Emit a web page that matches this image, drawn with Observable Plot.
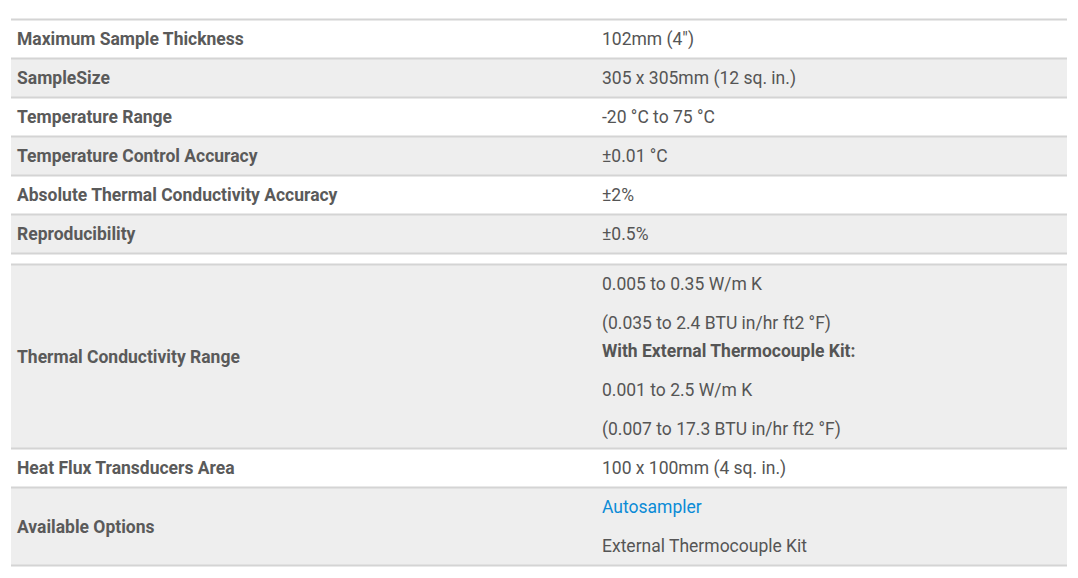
<!DOCTYPE html>
<html>
<head>
<meta charset="utf-8">
<script src="https://cdn.jsdelivr.net/npm/d3@7"></script>
<script src="https://cdn.jsdelivr.net/npm/@observablehq/plot@0.6"></script>
<style>
  body { margin: 0; background: #fff; }
  #chart svg { display: block; }
</style>
</head>
<body>
<div id="chart"></div>
<script>
// spec table: one label per row, value cell is a list of paragraphs (each a list of lines)
const labels = [
  "Maximum Sample Thickness",
  "SampleSize",
  "Temperature Range",
  "Temperature Control Accuracy",
  "Absolute Thermal Conductivity Accuracy",
  "Reproducibility",
  "Thermal Conductivity Range",
  "Heat Flux Transducers Area",
  "Available Options"
];
const tableOf = [0, 0, 0, 0, 0, 0, 1, 1, 1];
const values = [
  [["102mm (4\")"]],
  [["305 x 305mm (12 sq. in.)"]],
  [["-20 °C to 75 °C"]],
  [["±0.01 °C"]],
  [["±2%"]],
  [["±0.5%"]],
  [["0.005 to 0.35 W/m K"],
   ["(0.035 to 2.4 BTU in/hr ft2 °F)", "With External Thermocouple Kit:"],
   ["0.001 to 2.5 W/m K"],
   ["(0.007 to 17.3 BTU in/hr ft2 °F)"]],
  [["100 x 100mm (4 sq. in.)"]],
  [["Autosampler"], ["External Thermocouple Kit"]]
];
const boldLines = ["With External Thermocouple Kit:"];
const linkLines = ["Autosampler"];

// layout
const W = 1078, H = 578;
const LINE = 28, PARA = 11, TOP = 19, GAP = 11;
const X0 = 11, X1 = 1067, LX = 16.5, VX = 601.5;

let rows = [], lines = [], borders = [];
let y = TOP, local = 0;
labels.forEach((label, i) => {
  if (i > 0 && tableOf[i] !== tableOf[i - 1]) {
    borders.push({y: y});        // bottom of previous table
    y += GAP;
    local = 0;
  }
  const top = y;
  values[i].forEach((p) => {
    let py = y + PARA / 2;
    p.forEach((t) => {
      lines.push({text: t, y: py + LINE / 2});
      py += LINE;
    });
    y = py + PARA / 2;
  });
  rows.push({label, top, bottom: y, mid: (top + y) / 2, shade: (local + tableOf[i]) % 2 === 1});
  borders.push({y: top});
  local++;
});
borders.push({y: y});

const font = {fontSize: 17.5, fontFamily: "Roboto, 'Noto Sans', sans-serif", textAnchor: "start", lineAnchor: "middle", dy: 0.5};

let chart = Plot.plot({
  width: W,
  height: H,
  margin: 0,
  x: {type: "linear", domain: [0, W], range: [0, W], axis: null},
  y: {type: "linear", domain: [0, H], range: [0, H], axis: null},
  style: {background: "#fff", overflow: "visible"},
  marks: [
    Plot.rect(rows.filter((d) => d.shade), {x1: X0, x2: X1, y1: "top", y2: "bottom", fill: "#eeeeee"}),
    Plot.ruleY(borders, {y: "y", x1: X0, x2: X1, stroke: "#d4d4d4", strokeWidth: 2}),
    Plot.text(rows, {x: LX, y: "mid", text: "label", fill: "#5a5a5a", fontWeight: 700, ...font}),
    Plot.text(lines.filter((d) => !boldLines.includes(d.text)), {
      x: VX, y: "y", text: "text",
      fill: (d) => linkLines.includes(d.text) ? "#0a8bd6" : "#555",
      ...font
    }),
    Plot.text(lines.filter((d) => boldLines.includes(d.text)), {x: VX, y: "y", text: "text", fill: "#555", fontWeight: 700, ...font})
  ]
});

d3.select("#chart").html("");
d3.select("#chart").append(() => chart);
</script>
</body>
</html>
